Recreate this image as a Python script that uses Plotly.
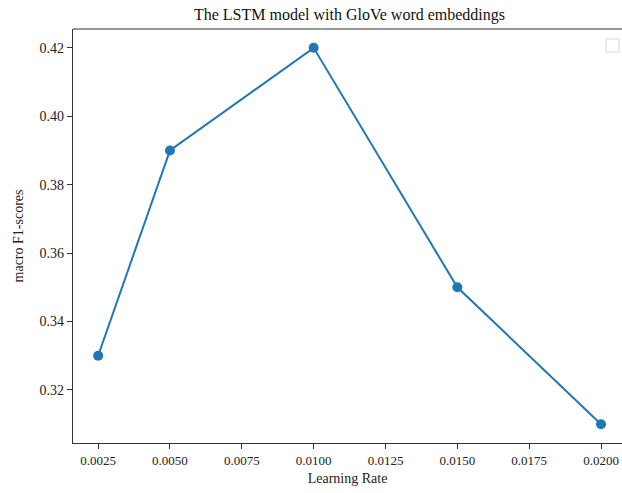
import plotly.graph_objects as go

learning_rates = [0.0025, 0.005, 0.01, 0.015, 0.02]
f1_scores = [0.33, 0.39, 0.42, 0.35, 0.31]
x_ticks = [0.0025, 0.0050, 0.0075, 0.0100, 0.0125, 0.0150, 0.0175, 0.0200]
x_tick_labels = ["0.0025", "0.0050", "0.0075", "0.0100", "0.0125", "0.0150", "0.0175", "0.0200"]
y_ticks = [0.32, 0.34, 0.36, 0.38, 0.40, 0.42]
y_tick_labels = ["0.32", "0.34", "0.36", "0.38", "0.40", "0.42"]

font = "Liberation Serif, Times New Roman, serif"

fig = go.Figure()
fig.add_trace(go.Scatter(
    x=learning_rates, y=f1_scores, mode="lines+markers",
    line=dict(color="#1f77b4", width=2),
    marker=dict(color="#1f77b4", size=10),
    showlegend=False,
    cliponaxis=False,
))

fig.update_layout(
    width=622, height=493,
    margin=dict(l=73, r=0, t=29, b=50, autoexpand=False),
    paper_bgcolor="white", plot_bgcolor="white",
    font=dict(family=font, size=13, color="#222"),
    title=dict(text="The LSTM model with GloVe word embeddings",
               x=(73 + 626) / 2 / 622, xanchor="center", y=1 - 14 / 493, yanchor="middle",
               font=dict(family=font, size=16, color="#111")),
    xaxis=dict(
        range=[0.001625, 0.02073], tickvals=x_ticks, ticktext=x_tick_labels,
        showgrid=False, zeroline=False, showline=True, linecolor="#333", linewidth=1.2,
        mirror=False, ticks="outside", ticklen=5, tickcolor="#333", automargin=False,
        title=dict(text="Learning Rate", standoff=6, font=dict(family=font, size=14)),
        tickfont=dict(family=font, size=13),
    ),
    yaxis=dict(
        range=[0.3045, 0.4255], tickvals=y_ticks, ticktext=y_tick_labels,
        showgrid=False, zeroline=False, showline=True, linecolor="#333", linewidth=1.2,
        mirror=False, ticks="outside", ticklen=5, tickcolor="#333", automargin=False,
        title=dict(text="macro F1-scores", standoff=12, font=dict(family=font, size=14)),
        tickfont=dict(family=font, size=14),
    ),
    shapes=[
        dict(type="line", xref="paper", yref="paper", x0=0, x1=1, y0=1, y1=1,
             line=dict(color="#333", width=1.2)),
        dict(type="rect", xref="paper", yref="paper",
             x0=(606 - 73) / 549, x1=(619 - 73) / 549,
             y0=(443 - 52) / 414, y1=(443 - 39) / 414,
             line=dict(color="#d8d8d8", width=1), fillcolor="white"),
    ],
)

fig.write_html("out.html", config={"displayModeBar": False},
               post_script="document.body.style.margin='0';document.body.style.overflow='hidden';")
